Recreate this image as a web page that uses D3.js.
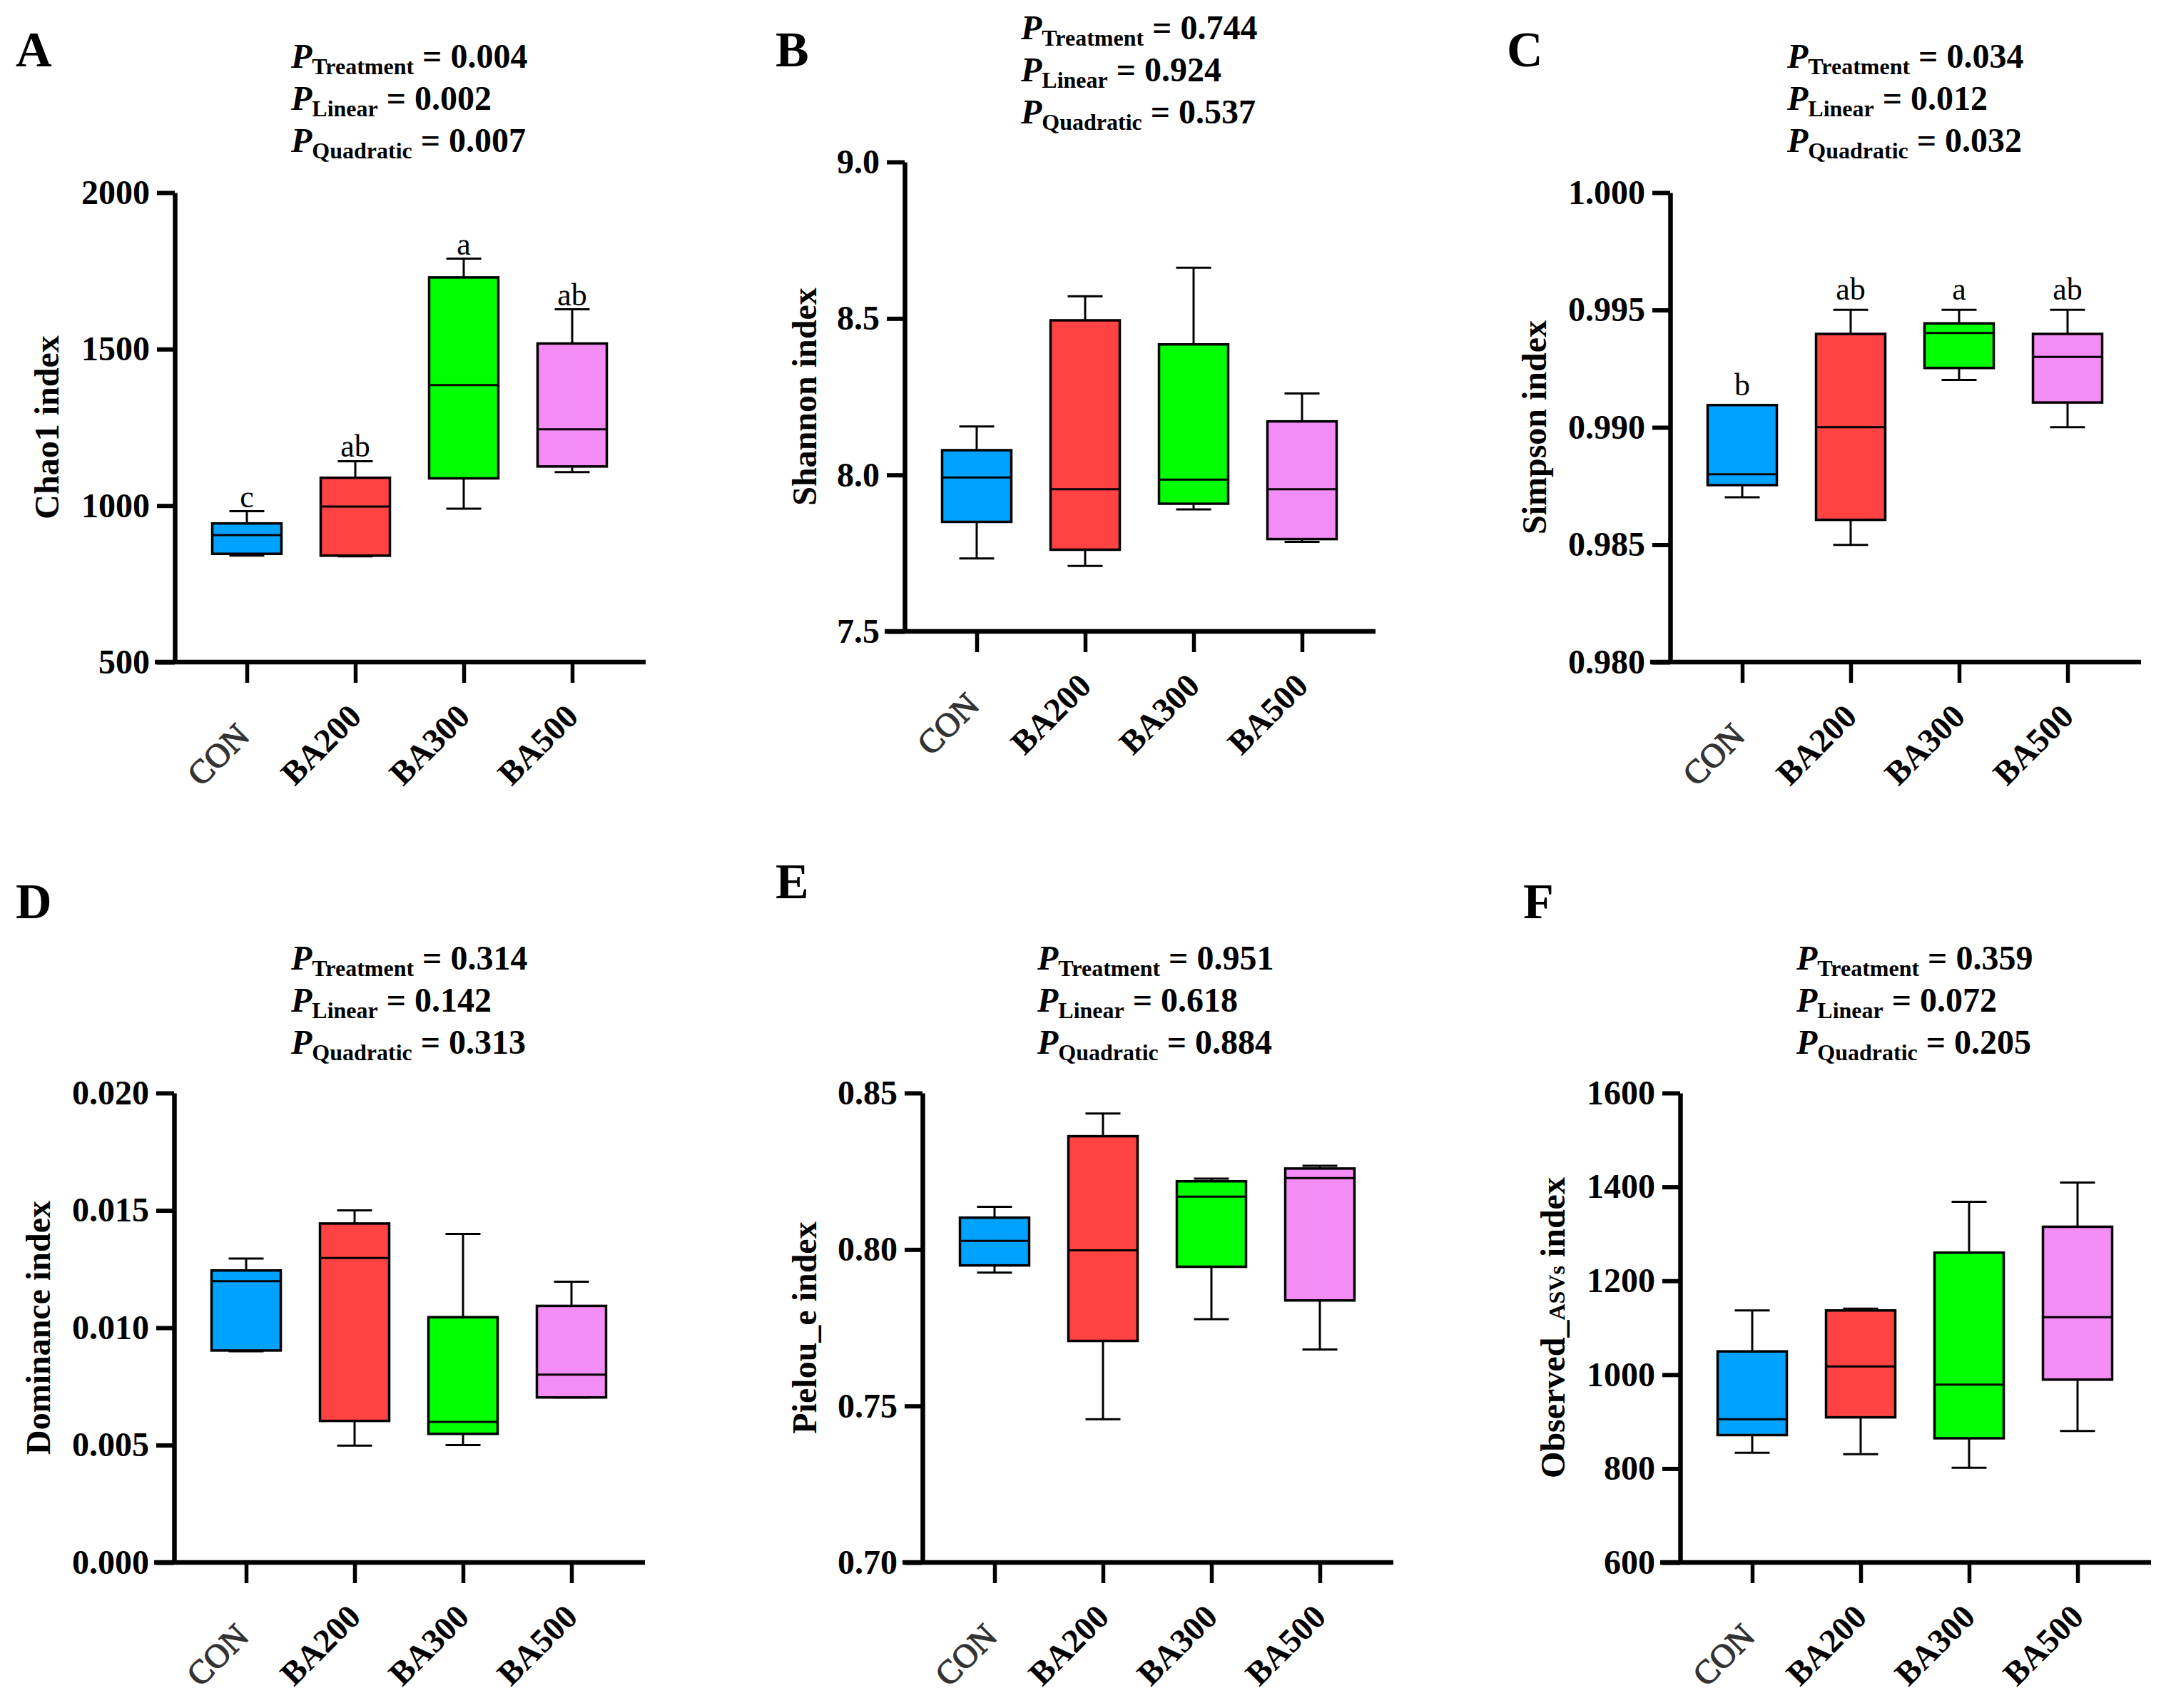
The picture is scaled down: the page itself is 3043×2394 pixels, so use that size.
<!DOCTYPE html>
<html><head><meta charset="utf-8">
<script src="https://cdn.jsdelivr.net/npm/d3@7"></script>
<style>
html,body{margin:0;padding:0;background:#fff;}
text{font-family:"Liberation Serif","Times New Roman",serif;}
</style></head>
<body>
<script>
// ---------- DATA ----------
const categories = ["CON", "BA200", "BA300", "BA500"];
const groupColors = ["#00A2FF", "#FF4242", "#00FF00", "#F48CF5"];

// each row: [min, Q1, median, Q3, max]
const chao1 = [[840, 846, 906, 943, 982], [838, 840, 997, 1089, 1142], [990, 1087, 1385, 1729, 1789], [1107, 1125, 1244, 1518, 1627]];
const shannon = [[7.733, 7.850, 7.992, 8.079, 8.155], [7.709, 7.761, 7.954, 8.494, 8.571], [7.890, 7.908, 7.985, 8.417, 8.662], [7.786, 7.795, 7.954, 8.171, 8.260]];
const simpson = [[0.98702, 0.98754, 0.98800, 0.99095, 0.99095], [0.98499, 0.98606, 0.99001, 0.99398, 0.99501], [0.99202, 0.99253, 0.99402, 0.99443, 0.99501], [0.99001, 0.99106, 0.99300, 0.99398, 0.99501]];
const dominance = [[0.00900, 0.00903, 0.01198, 0.01244, 0.01295], [0.00498, 0.00603, 0.01297, 0.01444, 0.01500], [0.00500, 0.00548, 0.00599, 0.01045, 0.01400], [0.00703, 0.00703, 0.00800, 0.01093, 0.01196]];
const pielou = [[0.79259, 0.79491, 0.80276, 0.81017, 0.81366], [0.74578, 0.77078, 0.79971, 0.83619, 0.84346], [0.77776, 0.79448, 0.81686, 0.82180, 0.82267], [0.76802, 0.78372, 0.82282, 0.82587, 0.82674]];
const asvs = [[833.5, 871.3, 905.2, 1049.6, 1136.8], [830.6, 909.1, 1017.6, 1136.8, 1140.7], [801.6, 864.5, 978.9, 1259.9, 1368.4], [880, 989.5, 1122.3, 1315.1, 1409.1]];

const chao1Ticks = [500, 1000, 1500, 2000];
const shannonTicks = [7.5, 8.0, 8.5, 9.0];
const simpsonTicks = [0.980, 0.985, 0.990, 0.995, 1.000];
const dominanceTicks = [0.000, 0.005, 0.010, 0.015, 0.020];
const pielouTicks = [0.70, 0.75, 0.80, 0.85];
const asvsTicks = [600, 800, 1000, 1200, 1400, 1600];

const chao1Letters = ["c", "ab", "a", "ab"];
const simpsonLetters = ["b", "ab", "a", "ab"];

const pA = ["0.004", "0.002", "0.007"];
const pB = ["0.744", "0.924", "0.537"];
const pC = ["0.034", "0.012", "0.032"];
const pD = ["0.314", "0.142", "0.313"];
const pE = ["0.951", "0.618", "0.884"];
const pF = ["0.359", "0.072", "0.205"];
const pNames = ["Treatment", "Linear", "Quadratic"];

// ---------- LAYOUT ----------
const panels = [
  {id:"A", data:chao1, ticks:chao1Ticks, fmt:d3.format("d"), title:["Chao1 index"], letters:chao1Letters, letGap:6, p:pA,
   ax:245, top:270, bot:928, lx:22, ly:93, px:408, py:95, tx:82},
  {id:"B", data:shannon, ticks:shannonTicks, fmt:d3.format(".1f"), title:["Shannon index"], p:pB,
   ax:1268, top:227, bot:885, lx:1087, ly:93, px:1431, py:55, tx:1144},
  {id:"C", data:simpson, ticks:simpsonTicks, fmt:d3.format(".3f"), title:["Simpson index"], letters:simpsonLetters, letGap:14, p:pC,
   ax:2341, top:270, bot:928, lx:2112, ly:93, px:2505, py:95, tx:2167},
  {id:"D", data:dominance, ticks:dominanceTicks, fmt:d3.format(".3f"), title:["Dominance index"], p:pD,
   ax:244, top:1532, bot:2190, lx:22, ly:1287, px:408, py:1359, tx:70},
  {id:"E", data:pielou, ticks:pielouTicks, fmt:d3.format(".2f"), title:["Pielou_e index"], p:pE,
   ax:1293, top:1532, bot:2190, lx:1087, ly:1259, px:1454, py:1359, tx:1144},
  {id:"F", data:asvs, ticks:asvsTicks, fmt:d3.format("d"), title:["Observed_", "ASVs", " index"], p:pF,
   ax:2355, top:1532, bot:2190, lx:2135, ly:1287, px:2518, py:1359, tx:2193}
];

const W = 3043, H = 2394;
const svg = d3.select("body").append("svg").attr("width", W).attr("height", H)
  .style("background", "#fff");

const boxW = 97, capW = 49, axW = 6.5;

panels.forEach(p => {
  const g = svg.append("g");
  const x = d3.scalePoint().domain(categories).range([p.ax + 101, p.ax + 101 + 3 * 152]);
  const y = d3.scaleLinear().domain([p.ticks[0], p.ticks[p.ticks.length - 1]]).range([p.bot, p.top]);

  // panel letter
  g.append("text").attr("x", p.lx).attr("y", p.ly).attr("font-size", 70).attr("font-weight", "bold").text(p.id);

  // P-values
  p.p.forEach((v, i) => {
    const t = g.append("text").attr("x", p.px).attr("y", p.py + i * 59).attr("font-weight", "bold").attr("font-size", 48);
    t.append("tspan").attr("font-style", "italic").text("P");
    t.append("tspan").attr("font-size", 32).attr("dy", 9).text(pNames[i]);
    t.append("tspan").attr("dy", -9).text(" = " + v);
  });

  // y axis
  const yAxis = d3.axisLeft(y).tickValues(p.ticks).tickFormat(p.fmt).tickSize(25).tickSizeOuter(0).tickPadding(10);
  const ya = g.append("g").attr("transform", `translate(${p.ax},0)`).call(yAxis);
  ya.select(".domain").attr("stroke", "#000").attr("stroke-width", axW);
  ya.selectAll(".tick line").attr("stroke", "#000").attr("stroke-width", 6);
  ya.selectAll(".tick text").attr("font-size", 48).attr("font-weight", "bold").attr("fill", "#000")
    .attr("font-family", "Liberation Serif, serif");

  // x axis
  const xAxis = d3.axisBottom(x).tickSize(29).tickSizeOuter(0).tickFormat("");
  const xa = g.append("g").attr("transform", `translate(0,${p.bot})`).call(xAxis);
  xa.select(".domain").remove();
  xa.selectAll(".tick line").attr("stroke", "#000").attr("stroke-width", 5.5);
  g.append("line").attr("x1", p.ax - 28).attr("x2", p.ax + 660).attr("y1", p.bot).attr("y2", p.bot)
    .attr("stroke", "#000").attr("stroke-width", axW);

  // x labels
  categories.forEach((c, i) => {
    const isCon = i === 0;
    const t = g.append("text")
      .attr("transform", isCon ? `translate(${x(c) - 29},${p.bot + 141}) rotate(-45)`
                               : `translate(${x(c) - 37},${p.bot + 127}) rotate(-45)`)
      .attr("text-anchor", "middle").attr("font-size", 47)
      .attr("font-weight", isCon ? "normal" : "bold")
      .attr("fill", isCon ? "#333" : "#000").text(c);
    if (isCon) t.attr("stroke", "#333").attr("stroke-width", 1.3);
  });

  // y title
  const tt = g.append("text").attr("transform", `translate(${p.tx},${(p.top + p.bot) / 2}) rotate(-90)`)
    .attr("text-anchor", "middle").attr("font-size", 48).attr("font-weight", "bold");
  p.title.forEach((s, i) => {
    const ts = tt.append("tspan").text(s);
    if (i === 1) ts.attr("font-size", 32);
  });

  // boxes
  const bg = g.selectAll(".bx").data(p.data).join("g");
  bg.each(function(d, i) {
    const cx = x(categories[i]);
    const s = d3.select(this);
    const [mn, q1, md, q3, mx] = d;
    // whiskers
    s.append("line").attr("x1", cx).attr("x2", cx).attr("y1", y(mx)).attr("y2", y(q3)).attr("stroke", "#000").attr("stroke-width", 3);
    s.append("line").attr("x1", cx).attr("x2", cx).attr("y1", y(q1)).attr("y2", y(mn)).attr("stroke", "#000").attr("stroke-width", 3);
    s.append("line").attr("x1", cx - capW / 2).attr("x2", cx + capW / 2).attr("y1", y(mx)).attr("y2", y(mx)).attr("stroke", "#000").attr("stroke-width", 3);
    s.append("line").attr("x1", cx - capW / 2).attr("x2", cx + capW / 2).attr("y1", y(mn)).attr("y2", y(mn)).attr("stroke", "#000").attr("stroke-width", 3);
    s.append("rect").attr("x", cx - boxW / 2).attr("width", boxW).attr("y", y(q3)).attr("height", y(q1) - y(q3))
      .attr("fill", groupColors[i]).attr("stroke", "#000").attr("stroke-width", 3.5);
    s.append("line").attr("x1", cx - boxW / 2).attr("x2", cx + boxW / 2).attr("y1", y(md)).attr("y2", y(md)).attr("stroke", "#000").attr("stroke-width", 3);
    if (p.letters) {
      s.append("text").attr("x", cx).attr("y", y(mx) - p.letGap).attr("text-anchor", "middle")
        .attr("font-size", 44).text(p.letters[i]);
    }
  });
});
</script>
</body></html>
